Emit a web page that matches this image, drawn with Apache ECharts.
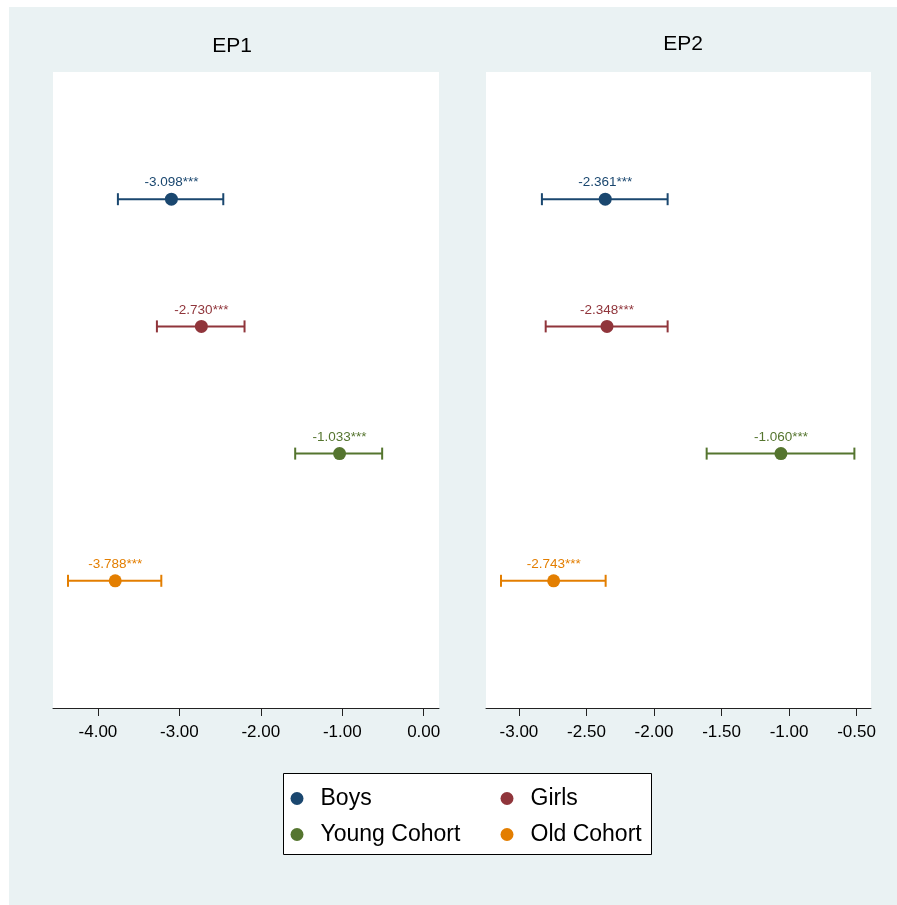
<!DOCTYPE html>
<html>
<head>
<meta charset="utf-8">
<script src="https://cdn.jsdelivr.net/npm/echarts@6/dist/echarts.min.js"></script>
<style>
  html, body { margin: 0; padding: 0; background: #ffffff; }
  #chart { width: 897px; height: 905px; }
</style>
</head>
<body>
<div id="chart"></div>
<script>
// ---- Data ----
const categories = ['Boys', 'Girls', 'Young Cohort', 'Old Cohort'];
const colors = ['#1a476f', '#90353b', '#55752f', '#e37e00'];

const ep1Est = [-3.098, -2.730, -1.033, -3.788];
const ep1Lo  = [-3.755, -3.276, -1.578, -4.368];
const ep1Hi  = [-2.461, -2.200, -0.510, -3.222];
const ep1Labels = ['-3.098***', '-2.730***', '-1.033***', '-3.788***'];

const ep2Est = [-2.361, -2.348, -1.060, -2.743];
const ep2Lo  = [-2.830, -2.802, -1.610, -3.133];
const ep2Hi  = [-1.899, -1.899, -0.516, -2.358];
const ep2Labels = ['-2.361***', '-2.348***', '-1.060***', '-2.743***'];

const ep1Ticks = [-4, -3, -2, -1, 0];
const ep2Ticks = [-3, -2.5, -2, -1.5, -1, -0.5];

const panelTitles = ['EP1', 'EP2'];

// ---- Build ----
const FONT = '"Liberation Sans", Arial, Helvetica, sans-serif';
const chart = echarts.init(document.getElementById('chart'), null, { renderer: 'canvas' });

function rowOf(i) { return categories.length - i; }

function makeAxis(gridIndex, min, max, ticks) {
  return {
    type: 'value', gridIndex: gridIndex, min: min, max: max,
    axisLine: { show: true, onZero: false, lineStyle: { color: '#222', width: 1 } },
    axisTick: { show: true, inside: false, length: 8, customValues: ticks, lineStyle: { color: '#222' } },
    axisLabel: { show: true, customValues: ticks, margin: 16, color: '#000', fontSize: 17, fontFamily: FONT,
      formatter: v => v.toFixed(2) },
    splitLine: { show: false }
  };
}

function errorSeries(gridIndex, lo, hi) {
  return {
    type: 'custom', xAxisIndex: gridIndex, yAxisIndex: gridIndex, silent: true, z: 2,
    data: categories.map((c, i) => [lo[i], hi[i], rowOf(i), i]),
    renderItem: function (params, api) {
      const p1 = api.coord([api.value(0), api.value(2)]);
      const p2 = api.coord([api.value(1), api.value(2)]);
      const col = colors[api.value(3)];
      const h = 6;
      const style = { stroke: col, lineWidth: 2 };
      return {
        type: 'group', children: [
          { type: 'line', shape: { x1: p1[0], y1: p1[1], x2: p2[0], y2: p2[1] }, style: style },
          { type: 'line', shape: { x1: p1[0], y1: p1[1] - h, x2: p1[0], y2: p1[1] + h }, style: style },
          { type: 'line', shape: { x1: p2[0], y1: p2[1] - h, x2: p2[0], y2: p2[1] + h }, style: style }
        ]
      };
    }
  };
}

function pointSeries(gridIndex, est, labels) {
  return categories.map((c, i) => ({
    name: c, type: 'scatter', xAxisIndex: gridIndex, yAxisIndex: gridIndex, z: 3,
    symbol: 'circle', symbolSize: 13,
    itemStyle: { color: colors[i], opacity: 1 },
    label: { show: true, position: 'top', distance: 3, formatter: labels[i],
      color: colors[i], fontSize: 13.5, fontFamily: FONT },
    data: [[est[i], rowOf(i)]]
  }));
}

const yAxisBase = {
  type: 'value', min: 0, max: 5, show: false
};

const legendCommon = {
  orient: 'vertical', top: 787, padding: 0, itemGap: 13,
  icon: 'circle', itemWidth: 37, itemHeight: 13, z: 20,
  textStyle: { fontSize: 23, fontFamily: FONT, color: '#000' }, selectedMode: false
};

const option = {
  backgroundColor: '#ffffff',
  animation: false,
  color: colors,
  graphic: [
    { type: 'rect', z: -10, shape: { x: 9, y: 7, width: 888, height: 898 }, style: { fill: '#eaf2f3' } },
    { type: 'rect', z: 10, shape: { x: 283.5, y: 773.5, width: 368, height: 81 }, style: { fill: '#ffffff', stroke: '#000', lineWidth: 1 } },
    { type: 'text', z: 10, x: 232, y: 46, style: { text: panelTitles[0], fill: '#000', font: '21px ' + FONT, textAlign: 'center', textVerticalAlign: 'middle' } },
    { type: 'text', z: 10, x: 683, y: 44, style: { text: panelTitles[1], fill: '#000', font: '21px ' + FONT, textAlign: 'center', textVerticalAlign: 'middle' } }
  ],
  legend: [
    Object.assign({ data: [categories[0], categories[2]], left: 290.5 }, legendCommon),
    Object.assign({ data: [categories[1], categories[3]], left: 500.5 }, legendCommon)
  ],
  grid: [
    { left: 53, width: 386, top: 72, height: 636, show: true, backgroundColor: '#ffffff', borderWidth: 0 },
    { left: 486, width: 385, top: 72, height: 636, show: true, backgroundColor: '#ffffff', borderWidth: 0 }
  ],
  xAxis: [
    makeAxis(0, -4.552, 0.188, ep1Ticks),
    makeAxis(1, -3.244, -0.393, ep2Ticks)
  ],
  yAxis: [
    Object.assign({ gridIndex: 0 }, yAxisBase),
    Object.assign({ gridIndex: 1 }, yAxisBase)
  ],
  series: [].concat(
    [errorSeries(0, ep1Lo, ep1Hi), errorSeries(1, ep2Lo, ep2Hi)],
    pointSeries(0, ep1Est, ep1Labels),
    pointSeries(1, ep2Est, ep2Labels)
  )
};

chart.setOption(option);
</script>
</body>
</html>
